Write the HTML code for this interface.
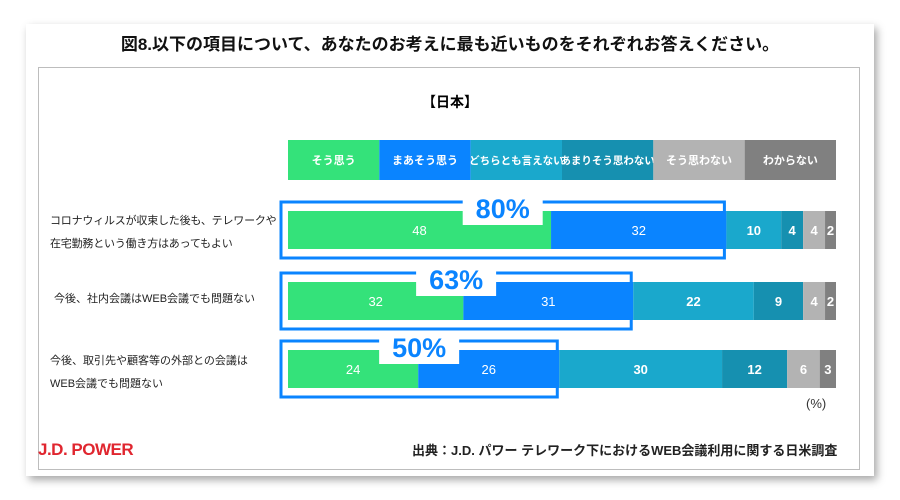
<!DOCTYPE html>
<html><head><meta charset="utf-8"><style>
body{margin:0;width:900px;height:500px;background:#fff;position:relative;overflow:hidden;font-family:"Liberation Sans","Noto Sans CJK JP",sans-serif;}
.card{position:absolute;left:26px;top:24px;width:848px;height:452px;background:#fff;box-shadow:3px 4px 8px rgba(0,0,0,0.35);}
.inner{position:absolute;left:38px;top:67px;width:822px;height:403px;border:1.5px solid #bdbdbd;box-sizing:border-box;}
.t{position:absolute;white-space:nowrap;}
</style></head><body>
<div class="card"></div>
<div class="inner"></div>
<div class="t" style="left:0;width:900px;text-align:center;top:30px;font-size:17px;font-weight:bold;color:#111;">図8.以下の項目について、あなたのお考えに最も近いものをそれぞれお答えください。</div>
<div class="t" style="left:0;width:900px;text-align:center;top:92px;font-size:14px;font-weight:bold;">【日本】</div>
<div class="t" style="left:50px;top:210px;font-size:11px;line-height:23px;color:#222;letter-spacing:-0.2px;">コロナウィルスが収束した後も、テレワークや<br>在宅勤務という働き方はあってもよい</div>
<div class="t" style="left:54px;top:290px;font-size:11px;color:#222;">今後、社内会議はWEB会議でも問題ない</div>
<div class="t" style="left:50px;top:350px;font-size:11px;line-height:23px;color:#222;">今後、取引先や顧客等の外部との会議は<br>WEB会議でも問題ない</div>
<div class="t" style="left:806px;top:396px;font-size:13px;color:#333;">(%)</div>
<div class="t" style="left:38px;top:440px;font-size:17px;font-weight:bold;color:#e0262f;letter-spacing:-0.5px;">J.D. POWER</div>
<div class="t" style="left:412px;top:440px;font-size:13px;font-weight:bold;color:#222;">出典：J.D. パワー テレワーク下におけるWEB会議利用に関する日米調査</div>
<svg id="chart" width="900" height="500" style="position:absolute;left:0;top:0"></svg>
<script>
const categories=["そう思う","まあそう思う","どちらとも言えない","あまりそう思わない","そう思わない","わからない"];
const row1=[48,32,10,4,4,2];
const row2=[32,31,22,9,4,2];
const row3=[24,26,30,12,6,3];
const totals=["80%","63%","50%"];
const colors=["#34e27a","#0a84ff","#1aa8cc","#1690b0","#b3b3b3","#808080"];
const rows=[row1,row2,row3];
const ns="http://www.w3.org/2000/svg";
const svg=document.getElementById("chart");
const X0=288,W=548;
const rowY=[211,282,350],BH=38;
function mk(t,a){const e=document.createElementNS(ns,t);for(const k in a)e.setAttribute(k,a[k]);svg.appendChild(e);return e;}
categories.forEach((c,i)=>{
  const w=W/6,x=X0+i*w;
  const r=mk("rect",{x:x,y:140,width:w,height:40,fill:colors[i]});
  
  
  const t=mk("text",{x:x+w/2,y:164,"text-anchor":"middle","font-size":i==2||i==3?10.5:11,"font-weight":"bold",fill:"#fff","font-family":"Liberation Sans,Noto Sans CJK JP,sans-serif"});
  t.textContent=c;
  
  
});
rows.forEach((vals,ri)=>{
  const sum=vals.reduce((a,b)=>a+b,0);
  const sx=v=>v/sum*W;
  let x=X0;
  const y=rowY[ri];
  vals.forEach((v,i)=>{
    const w=sx(v);
    const r=mk("rect",{x:x,y:y,width:w,height:BH,fill:colors[i]});
    
    
    const t=mk("text",{x:x+w/2,y:y+24,"text-anchor":"middle","font-size":13,"font-weight":i>=2?"bold":"normal",fill:"#fff"});
    t.textContent=v;
    
    
    x+=w;
  });
  const hw=sx(vals[0]+vals[1])+5;
  const b=mk("rect",{x:281,y:y-9,width:hw,height:BH+18,fill:"none",stroke:"#0a84ff","stroke-width":3});
  
  
  const cx=281+hw/2;
  const bg=mk("rect",{x:cx-40,y:y-18,width:80,height:32,fill:"#fff"});
  
  
  const lt=mk("text",{x:cx,y:y+7,"text-anchor":"middle","font-size":27,"font-weight":"bold",fill:"#0a84ff"});
  lt.textContent=totals[ri];
  
  
});
</script>
</body></html>
